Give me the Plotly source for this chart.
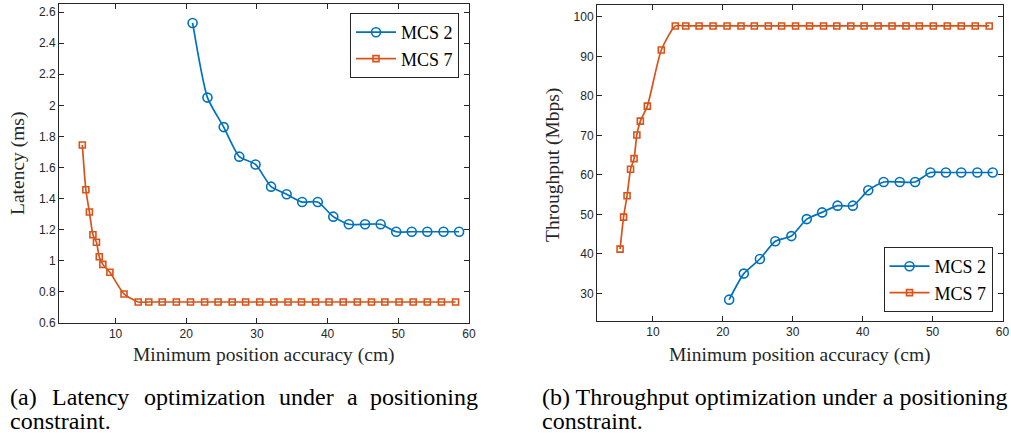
import plotly.graph_objects as go

# ---------------- data ----------------
x_mcs2 = [20.9, 23.0, 25.3, 27.5, 29.8, 32.0, 34.2, 36.4, 38.6, 40.8, 43.0, 45.3,
          47.5, 49.7, 51.9, 54.1, 56.4, 58.6]
lat_mcs2 = [2.53, 2.05, 1.86, 1.67, 1.62, 1.477, 1.428, 1.378, 1.378, 1.284, 1.235,
            1.235, 1.235, 1.187, 1.187, 1.187, 1.187, 1.187]
thr_mcs2 = [28.4, 35.0, 38.7, 43.2, 44.5, 48.8, 50.5, 52.2, 52.2, 56.1, 58.2, 58.2,
            58.2, 60.6, 60.6, 60.6, 60.6, 60.6]

x_mcs7 = [5.3, 5.8, 6.3, 6.8, 7.3, 7.7, 8.2, 9.2, 11.2, 13.2, 14.7, 16.6, 18.6, 20.6,
          22.6, 24.5, 26.5, 28.4, 30.4, 32.4, 34.4, 36.3, 38.3, 40.2, 42.2, 44.2, 46.2,
          48.1, 50.1, 52.1, 54.1, 56.1, 58.1]
lat_mcs7 = [1.745, 1.457, 1.314, 1.168, 1.119, 1.026, 0.977, 0.926, 0.787] + [0.735] * 24
thr_mcs7 = [41.2, 49.3, 54.7, 61.4, 64.1, 70.1, 73.6, 77.4, 91.6] + [97.7] * 24

series_names = ["MCS 2", "MCS 7"]
x_ticks = [10, 20, 30, 40, 50, 60]
lat_ticks = [0.6, 0.8, 1.0, 1.2, 1.4, 1.6, 1.8, 2.0, 2.2, 2.4, 2.6]
thr_ticks = [30, 40, 50, 60, 70, 80, 90, 100]

x_title = "Minimum position accuracy (cm)"
y_titles = ["Latency (ms)", "Throughput (Mbps)"]
caption_a_words = ["(a)", "Latency", "optimization", "under", "a", "positioning"]
caption_a_line2 = "constraint."
caption_b_line1 = "(b) Throughput optimization under a positioning"
caption_b_line2 = "constraint."

# ---------------- style ----------------
W, H = 1011, 436
BLUE = "#0072BD"
ORANGE = "#D95319"
AX = "#262626"
SERIF = "'Liberation Serif', 'Times New Roman', 'DejaVu Serif', serif"
SANS = "'Liberation Sans', Arial, sans-serif"


def px_x(p):
    return p / W


def px_y(p):
    return (H - p) / H


fig = go.Figure()

line_kw = dict(shape="spline", smoothing=0.6, width=1.7)

# left panel
fig.add_trace(go.Scatter(x=x_mcs2, y=lat_mcs2, name=series_names[0], mode="lines+markers",
                         line=dict(color=BLUE, **line_kw),
                         marker=dict(symbol="circle-open", size=9, color=BLUE, line=dict(width=1.6)),
                         xaxis="x", yaxis="y", legend="legend"))
fig.add_trace(go.Scatter(x=x_mcs7, y=lat_mcs7, name=series_names[1], mode="lines+markers",
                         line=dict(color=ORANGE, **line_kw),
                         marker=dict(symbol="square-open", size=6, color=ORANGE, line=dict(width=1.6)),
                         xaxis="x", yaxis="y", legend="legend"))
# right panel
fig.add_trace(go.Scatter(x=x_mcs2, y=thr_mcs2, name=series_names[0], mode="lines+markers",
                         line=dict(color=BLUE, **line_kw),
                         marker=dict(symbol="circle-open", size=9, color=BLUE, line=dict(width=1.6)),
                         xaxis="x2", yaxis="y2", legend="legend2"))
fig.add_trace(go.Scatter(x=x_mcs7, y=thr_mcs7, name=series_names[1], mode="lines+markers",
                         line=dict(color=ORANGE, **line_kw),
                         marker=dict(symbol="square-open", size=6, color=ORANGE, line=dict(width=1.6)),
                         xaxis="x2", yaxis="y2", legend="legend2"))

axis_common = dict(showline=True, linecolor=AX, linewidth=1, mirror="ticks",
                   ticks="inside", ticklen=5, tickcolor=AX, tickwidth=1,
                   showgrid=False, zeroline=False, automargin=False,
                   tickfont=dict(family=SANS, size=12, color=AX))

fig.update_layout(
    width=W, height=H,
    margin=dict(l=0, r=0, t=0, b=0),
    paper_bgcolor="white", plot_bgcolor="white",
    showlegend=True,
    xaxis=dict(domain=[px_x(59), px_x(469)], range=[2, 60], tickvals=x_ticks,
               anchor="y", **axis_common),
    yaxis=dict(domain=[px_y(323), px_y(4)], range=[0.6, 2.652], tickvals=lat_ticks,
               anchor="x", **axis_common),
    xaxis2=dict(domain=[px_x(597), px_x(1002.5)], range=[2, 60], tickvals=x_ticks,
                anchor="y2", **axis_common),
    yaxis2=dict(domain=[px_y(321), px_y(5)], range=[23, 103], tickvals=thr_ticks,
                anchor="x2", **axis_common),
    legend=dict(x=px_x(459), xanchor="right", y=px_y(13), yanchor="top",
                bgcolor="white", bordercolor=AX, borderwidth=1,
                font=dict(family=SERIF, size=18, color="black"),
                tracegroupgap=0, itemwidth=40),
    legend2=dict(x=px_x(992.5), xanchor="right", y=px_y(312), yanchor="bottom",
                 bgcolor="white", bordercolor=AX, borderwidth=1,
                 font=dict(family=SERIF, size=18, color="black"),
                 tracegroupgap=0, itemwidth=40),
)

ann = []
title_font = dict(family=SERIF, size=19.5, color=AX)
# axis titles
ann.append(dict(text=x_title, x=px_x(264), y=px_y(355), xref="paper", yref="paper",
                showarrow=False, xanchor="center", yanchor="middle", font=title_font))
ann.append(dict(text=x_title, x=px_x(800), y=px_y(355), xref="paper", yref="paper",
                showarrow=False, xanchor="center", yanchor="middle", font=title_font))
ann.append(dict(text=y_titles[0], x=px_x(18), y=px_y(164), xref="paper", yref="paper",
                showarrow=False, xanchor="center", yanchor="middle", textangle=-90,
                font=title_font))
ann.append(dict(text=y_titles[1], x=px_x(553), y=px_y(165), xref="paper", yref="paper",
                showarrow=False, xanchor="center", yanchor="middle", textangle=-90,
                font=title_font))

# captions
cap_font = dict(family=SERIF, size=24, color="black")
word_x = [8, 50, 142, 277, 345, 368]
for w, xp in zip(caption_a_words, word_x):
    ann.append(dict(text=w, x=px_x(xp), y=px_y(397), xref="paper", yref="paper",
                    showarrow=False, xanchor="left", yanchor="middle", font=cap_font))
ann.append(dict(text=caption_a_line2, x=px_x(8), y=px_y(421), xref="paper", yref="paper",
                showarrow=False, xanchor="left", yanchor="middle", font=cap_font))
ann.append(dict(text=caption_b_line1, x=px_x(540), y=px_y(397), xref="paper", yref="paper",
                showarrow=False, xanchor="left", yanchor="middle", font=cap_font))
ann.append(dict(text=caption_b_line2, x=px_x(540), y=px_y(421), xref="paper", yref="paper",
                showarrow=False, xanchor="left", yanchor="middle", font=cap_font))

fig.update_layout(annotations=ann)

fig.write_html("out.html", config={"displayModeBar": False},
               post_script="document.body.style.margin='0';document.body.style.overflow='hidden';")
